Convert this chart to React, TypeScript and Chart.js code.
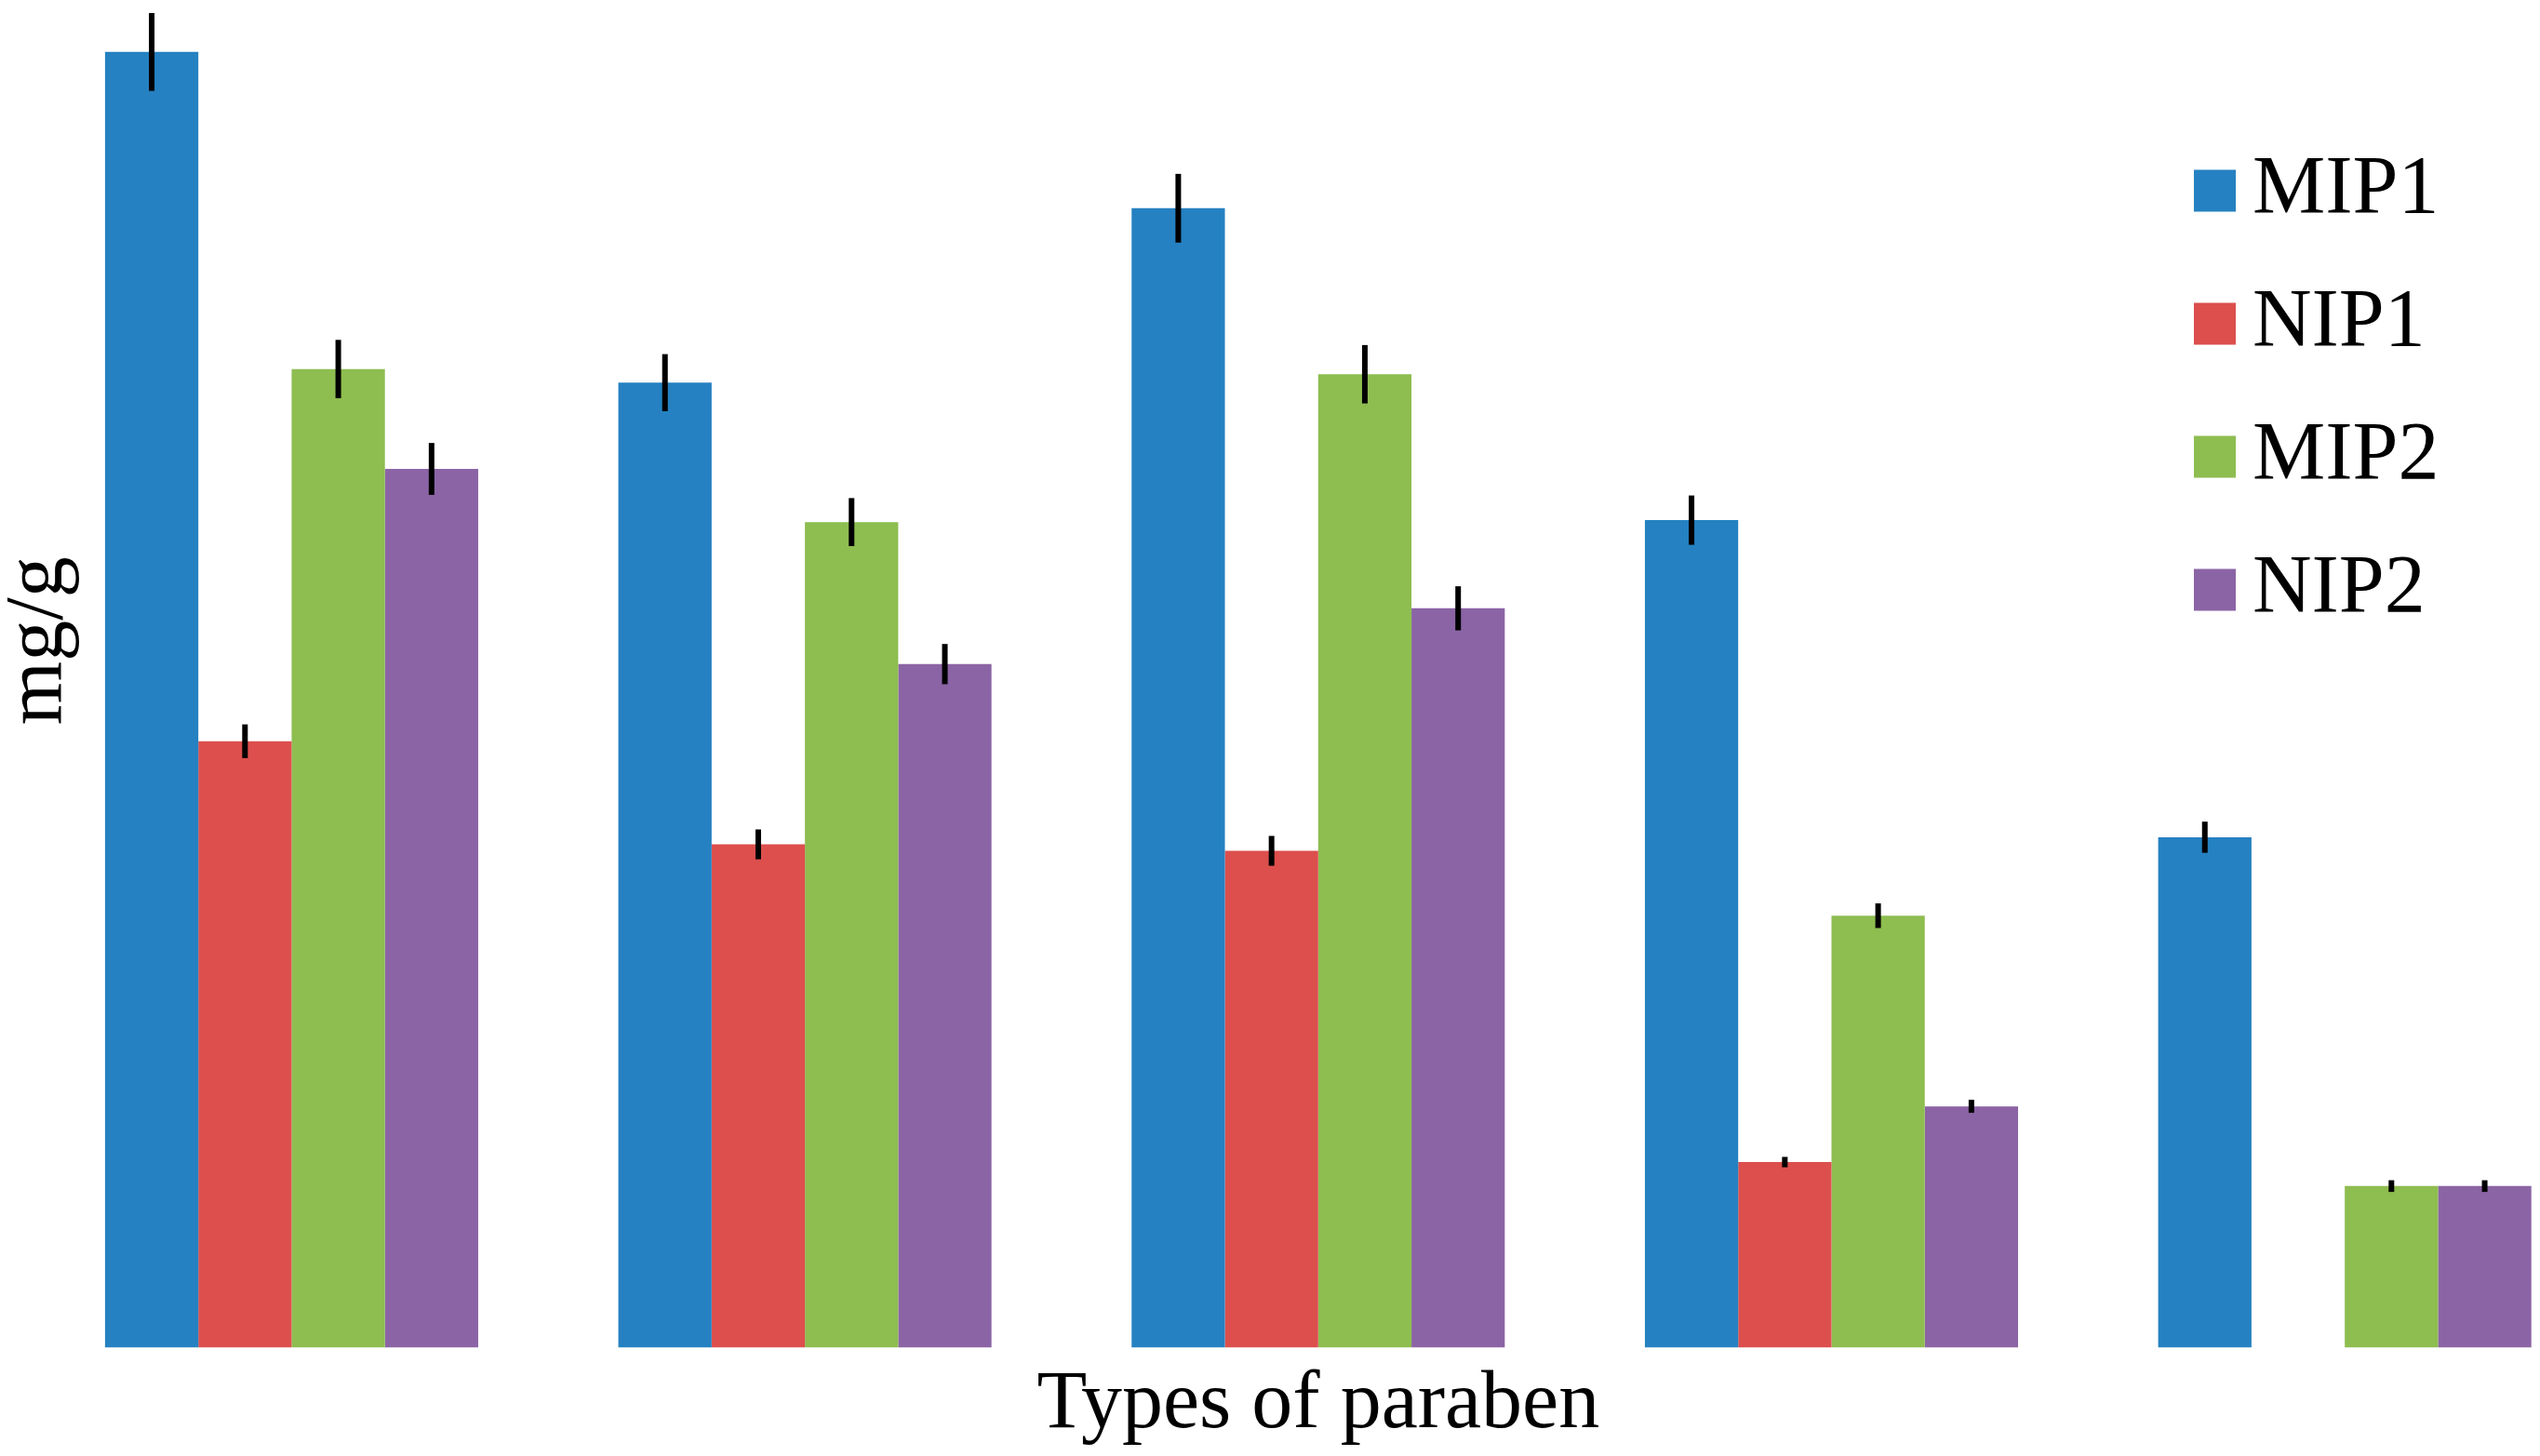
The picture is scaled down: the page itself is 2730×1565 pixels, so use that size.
import React, { useEffect, useRef } from 'react';
import { Chart, registerables } from 'chart.js';

Chart.register(...registerables);

// category names are not printed on the chart (axis labels hidden)
const categories = ['Paraben 1', 'Paraben 2', 'Paraben 3', 'Paraben 4', 'Paraben 5'];
const seriesNames = ['MIP1', 'NIP1', 'MIP2', 'NIP2'];
const seriesColors = ['#2581C1', '#DC4F4D', '#8EBD50', '#8B64A5'];

const mip1 = [19.98, 14.88, 17.57, 12.76, 7.87];
const nip1 = [9.35, 7.76, 7.66, 2.86, null];
const mip2 = [15.09, 12.73, 15.01, 6.66, 2.49];
const nip2 = [13.55, 10.54, 11.4, 3.72, 2.49];

const mip1Err = [0.6, 0.44, 0.53, 0.38, 0.24];
const nip1Err = [0.26, 0.23, 0.23, 0.08, null];
const mip2Err = [0.45, 0.37, 0.45, 0.19, 0.09];
const nip2Err = [0.4, 0.31, 0.34, 0.1, 0.09];

const seriesValues = [mip1, nip1, mip2, nip2];
const seriesErrors = [mip1Err, nip1Err, mip2Err, nip2Err];

const fontFamily = "'Liberation Serif', 'Times New Roman', serif";

const errorBars = {
    id: 'errorBars',
    afterDatasetsDraw(chart: any) {
        const { ctx } = chart;
        const y = chart.scales.y;
        ctx.save();
        ctx.strokeStyle = '#000';
        ctx.lineWidth = 6;
        chart.data.datasets.forEach((ds: any, i: number) => {
            const errs = seriesErrors[i];
            chart.getDatasetMeta(i).data.forEach((bar: any, j: number) => {
                const v = ds.data[j];
                const e = errs[j];
                if (v == null || e == null) return;
                ctx.beginPath();
                ctx.moveTo(bar.x, y.getPixelForValue(v + e));
                ctx.lineTo(bar.x, y.getPixelForValue(v - e));
                ctx.stroke();
            });
        });
        ctx.restore();
    }
};

// legend sits inside the plot, top right
const legendBox = {
    id: 'legendBox',
    afterDraw(chart: any) {
        const { ctx } = chart;
        ctx.save();
        ctx.font = `88px ${fontFamily}`;
        ctx.textBaseline = 'middle';
        ctx.textAlign = 'left';
        chart.data.datasets.forEach((ds: any, i: number) => {
            const cy = 276 + i * 143;
            ctx.fillStyle = ds.backgroundColor;
            ctx.fillRect(2358, cy - 22.5, 45, 45);
            ctx.fillStyle = '#000';
            ctx.fillText(ds.label, 2421, cy);
        });
        ctx.restore();
    }
};

const App = () => {
    const chartRef = useRef<HTMLCanvasElement>(null);

    useEffect(() => {
        if (!chartRef?.current) return;
        const myChart = new Chart(chartRef.current, {
            type: 'bar',
            data: {
                labels: categories,
                datasets: seriesNames.map((name, i) => ({
                    label: name,
                    data: seriesValues[i],
                    backgroundColor: seriesColors[i],
                    borderWidth: 0,
                    categoryPercentage: 0.727,
                    barPercentage: 1,
                })),
            },
            options: {
                animation: false,
                responsive: true,
                maintainAspectRatio: false,
                events: [],
                layout: { padding: 0 },
                plugins: {
                    legend: { display: false },
                    tooltip: { enabled: false },
                },
                scales: {
                    x: {
                        grid: { display: false, drawTicks: false },
                        border: { display: false },
                        ticks: { display: false },
                        title: {
                            display: true,
                            text: 'Types of paraben',
                            color: '#000',
                            font: { family: fontFamily, size: 88, lineHeight: 1.2 },
                            padding: { top: 10, bottom: 0 },
                        },
                    },
                    y: {
                        min: 0,
                        max: 21.8,
                        grid: { display: false, drawTicks: false },
                        border: { display: false },
                        ticks: { display: false },
                        title: {
                            display: true,
                            text: 'mg/g',
                            color: '#000',
                            font: { family: fontFamily, size: 88, lineHeight: 1.2 },
                            padding: { top: -9.5, bottom: -58.5 },
                        },
                    },
                },
            },
            plugins: [errorBars, legendBox],
        });

        return () => {
            myChart.destroy();
        };
    }, []);

    return (
        <div style={{ position: 'fixed', left: 0, top: -71, width: 2796, height: 1635 }}>
            <canvas ref={chartRef} />
        </div>
    );
};

export default App;
